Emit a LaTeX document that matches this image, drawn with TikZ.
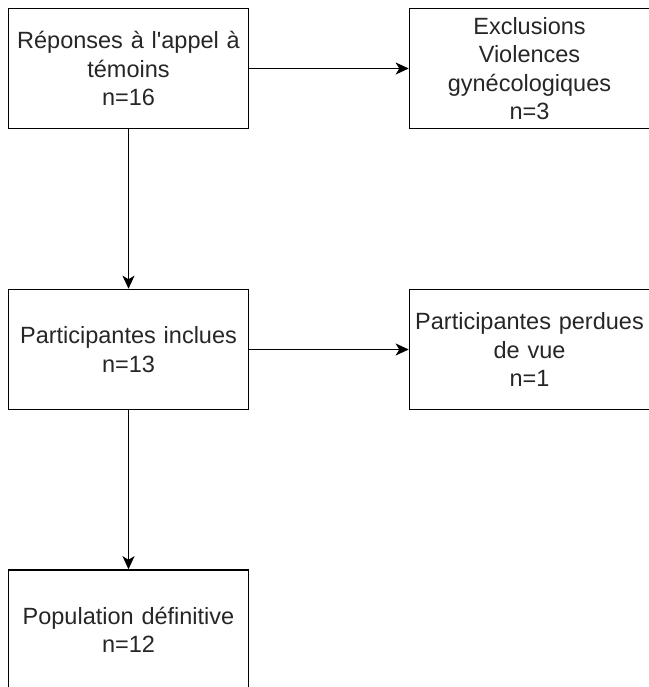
\documentclass[tikz,border=0pt]{standalone}
\usepackage{fontspec}
\setmainfont{Liberation Sans}
\usetikzlibrary{arrows.meta}
\begin{document}
\begin{tikzpicture}[x=1pt,y=-1pt,
  box/.style={draw=black, line width=1.6pt, rectangle, minimum width=240pt, minimum height=120pt,
    inner sep=0pt, text width=240pt, align=center, text=black!85, font=\fontsize{23.5}{28.5}\selectfont},
  link/.style={draw=black, line width=1.5pt, -{Stealth[length=13pt,width=12pt,inset=3.5pt]}}]
\useasboundingbox (0,0) rectangle (648,687);
\node[box] (rep) at (128.5,68.5) {Réponses à l\textquotesingle appel à\\témoins\\n=16};
\node[box] (exc) at (529.5,68.5) {Exclusions\\Violences\\gynécologiques\\n=3};
\node[box] (inc) at (128.5,349.5) {Participantes inclues\\n=13};
\node[box] (per) at (529.5,349.5) {Participantes perdues\\de vue\\n=1};
\node[box] (pop) at (128.5,630) {Population définitive\\n=12};
\draw[link] (rep) -- (exc);
\draw[link] (rep) -- (inc);
\draw[link] (inc) -- (per);
\draw[link] (inc) -- (pop);
\end{tikzpicture}
\end{document}
